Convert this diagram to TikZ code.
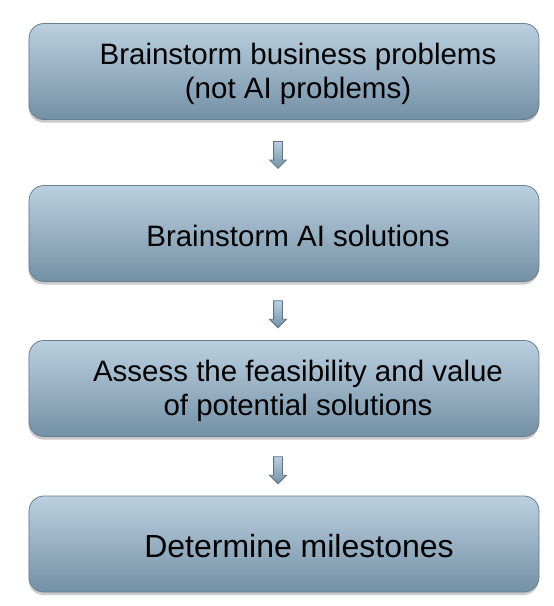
\documentclass[tikz,border=0pt]{standalone}
\usepackage{fontspec}
\setmainfont{Liberation Sans}
\usetikzlibrary{shadows,shapes.arrows,calc}
\definecolor{boxtop}{HTML}{BAD0E0}
\definecolor{boxbot}{HTML}{7490A5}
\definecolor{boxline}{HTML}{667F92}
\definecolor{arrline}{HTML}{5F7385}
\tikzset{
  stepbox/.style={draw=boxline, line width=0.8pt, rounded corners=15pt,
    minimum width=510pt, minimum height=96pt, inner sep=0pt,
    top color=boxtop, bottom color=boxbot,
    drop shadow={shadow xshift=-0.5pt, shadow yshift=-3pt, opacity=0.35, fill=black!60}},
  steptext/.style={font=\fontsize{29.5}{34}\selectfont, align=center, text=black},
  bigtext/.style={font=\fontsize{32}{36}\selectfont, align=center, text=black},
  downarrow/.style={single arrow, draw=arrline, line width=0.8pt, rotate=-90,
    minimum height=27pt, minimum width=16pt, single arrow head extend=4pt,
    inner sep=4pt, left color=boxtop, right color=boxbot, shading angle=0}
}
\begin{document}
\begin{tikzpicture}[x=1pt,y=1pt]
\useasboundingbox (0,0) rectangle (554,-606);
\fill[white] (0,0) rectangle (554,-606);
\node[stepbox] (b1) at (284,-71.5) {};
\node[stepbox] (b2) at (284,-233.5) {};
\node[stepbox] (b3) at (284,-388.5) {};
\node[stepbox] (b4) at (284,-544) {};
\node[steptext] (t1) at ($(b1.center)+(14,-2)$) {Brainstorm business problems\\(not AI problems)};
\node[steptext] (t2) at ($(b2.center)+(14,-2)$) {Brainstorm AI solutions};
\node[steptext] (t3) at ($(b3.center)+(14,-2)$) {Assess the feasibility and value\\of potential solutions};
\node[bigtext] (t4) at ($(b4.center)+(15,-2)$) {Determine milestones};
\node[downarrow] (a1) at (278,-152.7) {};
\node[downarrow] (a2) at (278,-312) {};
\node[downarrow] (a3) at (278,-468) {};
\end{tikzpicture}
\end{document}
